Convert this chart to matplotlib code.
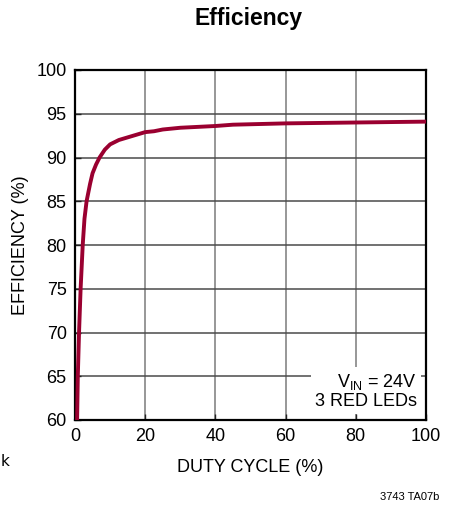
import matplotlib
matplotlib.use('Agg')
import matplotlib.pyplot as plt
from matplotlib.font_manager import fontManager

# values
duty = [0.6, 0.8, 1.15, 1.6, 2.2, 2.7, 3.3, 4.3, 5.0, 6.0, 7.0, 8.5, 10, 12.5, 15, 17.5,
        20, 22.5, 25, 30, 35, 40, 45, 50, 60, 70, 80, 90, 100]
eff = [60, 65, 70, 75, 80, 83, 85, 87, 88.2, 89.2, 90.0, 90.9, 91.5, 92.0, 92.3, 92.6,
       92.9, 93.0, 93.2, 93.4, 93.5, 93.6, 93.75, 93.8, 93.9, 93.95, 94.0, 94.05, 94.1]

x_ticks = [0, 20, 40, 60, 80, 100]
y_ticks = [60, 65, 70, 75, 80, 85, 90, 95, 100]

names = {f.name for f in fontManager.ttflist}
narrow = 'Liberation Sans Narrow' if 'Liberation Sans Narrow' in names else 'Liberation Sans'
plt.rcParams['font.family'] = [narrow, 'DejaVu Sans']

fig = plt.figure(figsize=(4.58, 5.08), dpi=100)
ax = fig.add_axes([75 / 458, 1 - 420 / 508, 351 / 458, 350 / 508])

for x in x_ticks[1:-1]:
    ax.axvline(x, color='#7a7a7a', lw=1.1, zorder=1)
for y in y_ticks[1:-1]:
    ax.axhline(y, color='#4a4a4a', lw=1.1, zorder=1)

ax.plot(duty, eff, color='#9a0030', lw=2.8, solid_capstyle='round', zorder=3)

ax.set_xlim(0, 100)
ax.set_ylim(60, 100)
ax.set_xticks(x_ticks)
ax.set_yticks(y_ticks)
ax.tick_params(direction='in', length=4, width=1, labelsize=13, pad=6, color='#222')
for s in ax.spines.values():
    s.set_linewidth(1.6)

ax.set_xlabel('DUTY CYCLE (%)', fontsize=13, labelpad=10)
ax.set_ylabel('EFFICIENCY (%)', fontsize=13, labelpad=5)

ax.text(0.975, 0.03, '$\\mathregular{V_{IN}}$ = 24V\n3 RED LEDs', transform=ax.transAxes,
        ha='right', va='bottom', fontsize=13, linespacing=1.05, zorder=4,
        bbox=dict(facecolor='white', edgecolor='none', pad=3))

fig.text(249 / 458, 1 - 18 / 508, 'Efficiency', ha='center', va='center',
         fontsize=16.5, fontweight='bold')
fig.text(410 / 458, 1 - 497 / 508, '3743 TA07b', ha='center', va='center', fontsize=8)
fig.text(5 / 458, 1 - 462 / 508, 'k', ha='center', va='center', fontsize=11, family='DejaVu Sans')

fig.savefig('out.png', dpi=100)
